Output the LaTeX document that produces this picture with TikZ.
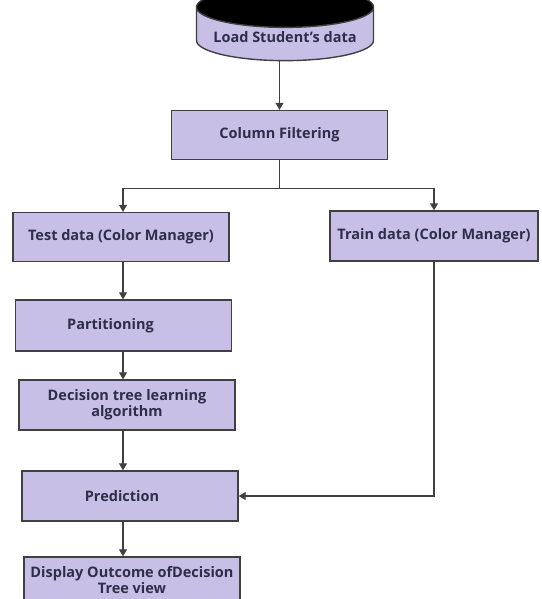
\documentclass[tikz,border=0pt]{standalone}
\usepackage{fontspec}
\setmainfont{Open Sans}
\usetikzlibrary{calc,positioning,arrows.meta,shapes.geometric}
\definecolor{lav}{HTML}{C8BFE7}
\definecolor{edge}{HTML}{404040}
\definecolor{ink}{HTML}{2E2E48}
\begin{document}
\begin{tikzpicture}[x=1pt,y=-1pt,
box/.style={draw=edge,line width=1.4pt,fill=lav,minimum width=216pt,minimum height=49pt,inner sep=2pt,font=\fontsize{14.5}{16}\selectfont\bfseries,text=ink,align=center},
ln/.style={draw=edge,line width=1.2pt},
arr/.style={ln,-{Triangle[length=7pt,width=8pt]}}]
\useasboundingbox(0,0)rectangle(541,599);
\node[cylinder,shape border rotate=90,aspect=0.27,draw=edge,line width=1.4pt,cylinder uses custom fill,cylinder end fill=black,cylinder body fill=lav,minimum width=177pt,minimum height=67pt,font=\fontsize{14.5}{16}\selectfont\bfseries,text=ink](ld) at (285,37){Load Student's data};
\node[box](cf) at (279.5,135){Column Filtering};
\node[box](te) at (121,237){Test data (Color Manager)};
\node[box,minimum width=208pt,minimum height=50pt](tr) at (434,236){Train data (Color Manager)};
\node[box,minimum height=51pt](pa) at (123.5,325.5){Partitioning\hspace{26pt}};
\node[box,minimum height=50pt](dt) at (127,405){Decision tree learning\\algorithm\hspace{26pt}};
\node[box,minimum height=50pt](pr) at (130,496){Prediction\hspace{16pt}};
\node[box,minimum height=46pt](do) at (132,580){Display Outcome ofDecision\\Tree view};
\coordinate(k) at (123,0);
\coordinate(f) at ($(cf.south)+(0,28)$);
\draw[arr](cf.north |- ld.south)--(cf.north);
\draw[ln](cf.south)--(f);
\draw[arr](f)-|(k |- te.north);
\draw[arr](f)-|(tr.north);
\draw[arr](k |- te.south)--(k |- pa.north);
\draw[arr](k |- pa.south)--(k |- dt.north);
\draw[arr](k |- dt.south)--(k |- pr.north);
\draw[arr](k |- pr.south)--(k |- do.north);
\draw[arr](tr.south)|-(pr.east);
\end{tikzpicture}
\end{document}
